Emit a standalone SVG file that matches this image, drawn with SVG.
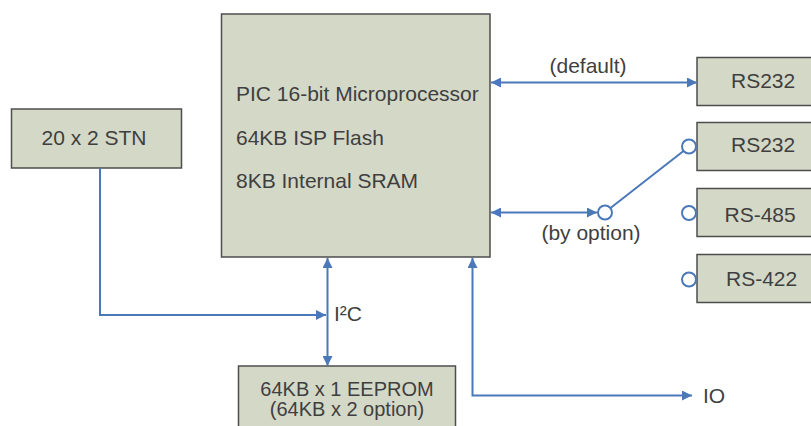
<svg xmlns="http://www.w3.org/2000/svg" width="811" height="426" viewBox="0 0 811 426">
<style>
.box{fill:#d4d8c7;stroke:#4d4d4d;stroke-width:1.5}
.t{font-family:"Liberation Sans",Arial,sans-serif;font-size:21px;fill:#3f3f3f}
.s{font-size:20px}
.c{stroke:#4a78b8;stroke-width:2;fill:none}
.sw{fill:#ffffff;stroke:#4a78b8;stroke-width:2}
</style>
<defs>
<marker id="ah" viewBox="0 0 10 10" refX="10" refY="5" markerWidth="10" markerHeight="10" markerUnits="userSpaceOnUse" orient="auto-start-reverse">
<path d="M0,0 L10,5 L0,10 z" fill="#4a78b8"/>
</marker>
</defs>
<rect width="811" height="426" fill="#ffffff"/>
<g id="mcu">
<rect class="box" x="221.5" y="14" width="268.5" height="243"/>
<text class="t" x="236" y="101">PIC 16-bit Microprocessor</text>
<text class="t" x="236" y="144.5">64KB ISP Flash</text>
<text class="t" x="236" y="188">8KB Internal SRAM</text>
</g>
<g id="stn">
<rect class="box" x="11.5" y="109" width="170" height="59"/>
<text class="t" x="94" y="144.5" text-anchor="middle">20 x 2 STN</text>
</g>
<g id="rs232a">
<rect class="box" x="697" y="57.5" width="130" height="48"/>
<text class="t" x="731" y="87.5">RS232</text>
</g>
<g id="rs232b">
<rect class="box" x="697" y="122.5" width="130" height="48"/>
<text class="t" x="731" y="152">RS232</text>
</g>
<g id="rs485">
<rect class="box" x="697" y="188.5" width="130" height="48"/>
<text class="t" x="724.5" y="222">RS-485</text>
</g>
<g id="rs422">
<rect class="box" x="697" y="254.5" width="130" height="48"/>
<text class="t" x="726" y="286">RS-422</text>
</g>
<g id="eeprom">
<rect class="box" x="238.5" y="366" width="217" height="70"/>
<text class="t s" x="347" y="395.5" text-anchor="middle">64KB x 1 EEPROM</text>
<text class="t s" x="347" y="416" text-anchor="middle">(64KB x 2 option)</text>
</g>
<g id="io">
<text class="t" x="703" y="403">IO</text>
</g>
<g id="connectors">
<line class="c" x1="491" y1="82.5" x2="697" y2="82.5" marker-start="url(#ah)" marker-end="url(#ah)"/>
<text class="t" x="588" y="72.5" text-anchor="middle">(default)</text>
<line class="c" x1="491" y1="212.5" x2="597" y2="212.5" marker-start="url(#ah)" marker-end="url(#ah)"/>
<text class="t" x="591" y="239.5" text-anchor="middle">(by option)</text>
<line class="c" x1="610.5" y1="208" x2="683.5" y2="151"/>
<circle class="sw" cx="605" cy="212.5" r="7"/>
<circle class="sw" cx="689" cy="146.5" r="7"/>
<circle class="sw" cx="689" cy="213" r="7"/>
<circle class="sw" cx="689" cy="279.5" r="7"/>
<polyline class="c" points="100,168 100,315 326,315" marker-end="url(#ah)"/>
<line class="c" x1="327.5" y1="258" x2="327.5" y2="366" marker-start="url(#ah)" marker-end="url(#ah)"/>
<text class="t" x="334" y="321">I²C</text>
<polyline class="c" points="472.5,258 472.5,395.5 692,395.5" marker-start="url(#ah)" marker-end="url(#ah)"/>
</g>
</svg>
